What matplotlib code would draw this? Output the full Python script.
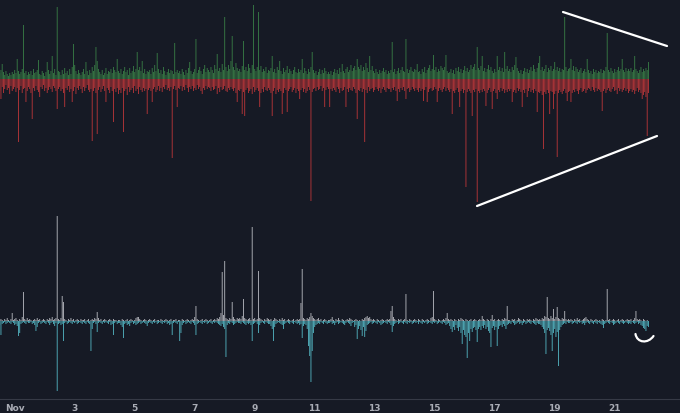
import numpy as np
import pandas as pd
import matplotlib
matplotlib.use('Agg')
import matplotlib.pyplot as plt
import matplotlib.dates as mdates
from matplotlib.lines import Line2D
from matplotlib.path import Path
from matplotlib.patches import PathPatch
from matplotlib.ticker import FuncFormatter

# hourly bars, first bar at Oct 31 12:00, one row = 24 hours
start = '2021-10-31 12:00'

buy_vol = [  # top panel, green (up)
    [6,9,15,7,4,8,5,3,6,4,7,5,9,6,20,8,5,7,10,54,6,8,4,7],
    [5,8,4,10,6,7,9,19,5,4,8,6,3,7,17,9,5,8,23,6,10,4,72,8],
    [7,4,9,5,11,6,8,4,10,5,12,35,14,8,5,9,6,4,7,10,5,17,8,4],
    [9,6,12,8,14,32,18,10,7,5,9,4,6,11,5,8,7,10,6,12,9,7,20,8],
    [6,10,5,8,12,7,9,4,11,6,8,13,7,10,27,9,12,8,18,6,10,5,8,7],
    [9,5,11,7,14,8,26,10,6,9,5,12,8,4,7,10,6,9,8,5,36,7,9,6],
    [8,5,10,7,4,9,6,11,17,8,5,7,10,40,6,9,12,8,5,10,14,7,11,9],
    [7,12,9,6,14,10,25,8,11,7,15,9,62,12,8,14,10,18,43,12,9,16,11,8],
    [10,7,13,38,9,12,8,15,11,6,14,74,10,8,12,67,9,13,7,10,8,12,6,9],
    [8,11,23,7,10,6,12,9,18,8,5,11,7,9,13,6,10,8,5,9,12,7,6,10],
    [7,9,20,6,11,8,5,10,7,12,27,9,6,8,4,7,10,5,9,6,11,8,5,7],
    [5,8,4,7,10,6,9,5,11,7,15,8,6,10,12,7,9,14,8,11,13,9,20,12],
    [10,14,8,12,9,16,11,7,23,9,13,8,6,10,7,5,9,6,8,11,7,9,5,8],
    [6,9,37,7,10,5,8,11,6,9,12,8,7,40,10,6,9,12,8,7,10,9,15,7],
    [8,5,10,7,12,6,9,11,14,8,10,24,9,12,7,10,8,13,11,9,12,24,8,6],
    [7,10,6,9,5,11,8,12,7,10,6,9,13,8,11,7,9,14,10,12,15,9,32,11],
    [9,13,23,8,11,7,10,14,9,12,8,6,10,7,23,9,12,8,11,7,27,10,13,8],
    [10,7,12,9,14,22,11,8,6,9,5,8,11,7,10,6,9,12,8,14,10,7,11,16],
    [23,9,12,8,10,14,7,11,9,13,8,10,17,9,12,8,11,7,10,9,62,12,8,10],
    [11,20,9,13,8,12,10,7,9,11,6,8,10,7,20,9,6,8,5,10,7,9,6,8],
    [7,10,6,9,8,12,46,9,7,11,8,6,10,7,9,12,8,10,20,9,7,11,8,10],
    [8,11,7,9,23,10,8,6,9,12,7,10,8,11,9,17],
]

sell_vol = [  # top panel, red (down)
    [12,20,8,14,10,6,11,9,15,7,12,10,8,13,9,63,11,7,14,10,9,23,12,8],
    [10,14,40,9,12,7,11,13,18,8,10,6,12,9,14,11,8,10,13,7,9,12,30,10],
    [8,12,10,14,28,9,11,7,13,10,23,12,8,15,9,11,7,10,14,8,12,9,6,11],
    [13,10,62,12,9,14,55,11,8,13,10,7,12,23,9,11,14,8,12,43,10,13,9,15],
    [11,14,9,53,12,10,16,8,13,11,9,14,7,12,10,15,8,11,13,9,12,10,35,11],
    [9,12,23,10,8,13,11,7,12,9,13,8,10,6,11,9,12,8,79,10,7,11,28,9],
    [10,7,12,8,11,6,9,13,8,10,7,12,9,11,6,10,8,12,15,9,11,7,10,8],
    [9,12,8,11,10,7,15,9,13,8,11,10,7,12,13,9,11,8,10,12,9,14,23,11],
    [12,10,35,13,37,11,9,14,12,10,15,8,13,11,9,12,28,14,10,13,8,11,12,9],
    [11,14,37,12,9,15,11,13,10,12,35,14,9,11,33,12,10,8,13,11,9,14,10,12],
    [20,11,9,13,10,14,12,8,11,122,13,10,9,12,8,11,10,7,12,9,28,11,8,10],
    [28,10,12,9,11,13,8,10,14,9,12,11,8,28,10,13,9,11,12,8,10,14,40,11],
    [12,9,13,10,63,11,14,8,12,10,9,13,11,8,10,12,9,14,10,8,11,13,9,10],
    [10,13,9,11,8,12,22,10,13,9,11,8,12,20,10,9,13,11,8,10,12,9,11,13],
    [9,12,10,22,11,8,23,13,10,9,12,11,8,10,23,12,9,11,13,10,8,12,9,11],
    [13,10,35,12,14,11,9,13,28,12,10,14,11,108,13,10,12,14,37,11,13,10,123,12],
    [14,11,13,10,12,27,14,11,9,13,30,12,10,14,20,11,13,9,12,10,14,11,13,10],
    [12,10,23,13,11,14,9,12,10,13,28,11,14,10,18,12,9,13,11,14,10,12,33,13],
    [14,12,16,70,13,15,11,14,35,12,13,30,15,12,78,14,11,13,15,12,10,14,22,13],
    [12,23,14,11,13,10,12,15,11,9,13,12,10,14,11,9,10,12,8,11,13,9,12,10],
    [11,13,32,12,10,14,11,9,12,13,10,8,12,11,15,9,12,10,13,11,9,12,10,14],
    [12,10,13,11,15,12,9,13,11,14,20,16,13,18,57,14],
]

inflow = [  # bottom panel, grey (up)
    [1,2,1,0,2,1,3,1,0,2,8,1,2,3,1,0,2,1,4,29,2,1,3,1],
    [2,1,0,1,2,1,3,1,2,0,1,2,1,0,2,1,3,2,4,1,2,3,105,2],
    [1,3,25,19,2,1,0,2,1,3,1,2,0,1,2,1,0,2,1,1,2,0,1,2],
    [0,1,2,1,3,2,9,3,1,2,0,1,2,1,0,1,2,1,0,2,1,1,0,1],
    [1,0,2,1,0,1,2,0,1,2,1,0,1,3,4,4,2,1,0,1,2,1,0,1],
    [2,1,0,1,2,0,1,1,0,2,1,0,1,2,1,0,1,2,0,1,1,2,0,1],
    [1,0,2,1,0,1,2,1,0,1,2,1,4,15,2,1,0,1,2,0,1,2,1,0],
    [1,2,0,1,2,1,3,2,4,8,49,6,60,3,2,1,3,2,19,4,2,1,3,2],
    [3,2,5,22,3,2,1,2,3,1,94,2,3,1,2,50,3,2,1,0,2,1,3,2],
    [1,2,0,1,3,2,1,0,2,1,3,1,2,0,1,2,1,0,1,2,0,1,2,1],
    [2,18,52,3,2,1,3,2,4,8,5,3,2,1,2,3,1,2,0,1,2,1,0,1],
    [1,2,4,1,0,2,1,3,1,0,2,1,0,1,2,1,3,2,1,0,1,2,1,0],
    [1,0,2,1,3,4,5,3,4,2,1,2,1,0,2,1,0,1,2,1,0,1,2,1],
    [2,10,15,4,2,1,0,2,1,2,0,1,2,27,1,0,2,1,0,1,2,1,0,2],
    [1,0,2,1,0,1,2,1,0,3,4,30,2,1,0,2,1,0,1,2,1,3,8,2],
    [1,2,1,0,2,1,0,2,1,3,2,1,0,2,1,0,1,2,0,1,2,1,0,1],
    [2,1,5,2,1,0,2,1,0,2,6,1,2,0,1,2,1,0,2,1,3,2,15,1],
    [1,0,2,1,2,0,1,3,2,1,0,2,1,0,2,1,2,1,0,2,1,3,2,1],
    [2,1,3,2,5,4,24,3,2,5,3,12,2,4,14,3,2,1,3,2,10,2,1,2],
    [1,2,1,0,2,1,3,1,2,0,1,2,3,4,2,1,0,2,1,0,1,2,1,0],
    [1,0,2,1,0,1,32,1,2,0,1,2,1,0,1,2,0,1,2,1,0,1,2,1],
    [1,2,0,1,3,10,2,1,2,1,0,2,1,0,1,0],
]

outflow = [  # bottom panel, teal (down)
    [4,14,3,2,1,3,2,1,2,3,1,2,4,3,5,15,12,3,2,1,2,3,1,2],
    [2,1,3,2,4,10,6,2,1,3,2,1,2,3,1,2,4,2,1,3,5,2,70,3],
    [2,4,3,20,2,1,3,2,1,2,3,1,2,1,3,2,1,2,3,1,2,3,1,2],
    [3,30,8,2,1,3,11,2,1,2,3,1,2,1,2,3,1,4,3,14,2,1,3,2],
    [2,4,6,17,3,2,4,3,5,2,1,3,2,4,3,2,1,3,2,1,2,3,5,2],
    [1,2,3,1,2,1,3,2,1,2,3,1,2,1,3,2,4,3,14,2,1,2,3,1],
    [20,12,4,2,1,3,2,1,2,3,1,2,4,14,3,2,1,2,3,1,2,1,3,2],
    [1,2,3,1,2,1,2,3,4,5,3,6,8,36,4,2,3,1,2,4,3,2,1,2],
    [2,3,1,2,3,4,2,3,2,4,20,3,2,1,3,12,4,2,1,2,3,1,2,3],
    [3,5,8,20,6,3,2,1,2,3,4,8,3,2,1,2,3,1,2,3,1,2,3,2],
    [4,3,17,5,3,4,8,25,35,61,30,12,6,4,3,2,3,1,2,3,1,2,3,2],
    [2,1,3,2,4,2,1,3,2,1,2,3,4,2,1,2,3,5,2,1,6,4,18,8],
    [5,9,15,6,16,10,4,3,2,1,3,2,1,2,3,1,2,4,3,2,1,2,3,1],
    [2,4,11,5,3,2,1,3,2,1,2,3,1,2,3,1,2,1,3,2,1,2,1,3],
    [1,2,3,1,2,1,3,2,1,2,3,1,2,1,3,2,1,2,3,1,2,4,3,2],
    [5,8,11,6,9,4,7,10,6,12,23,9,14,16,37,12,20,8,11,7,6,9,21,8],
    [6,9,5,7,4,8,6,10,12,26,7,5,9,6,25,8,5,4,6,3,5,8,4,3],
    [2,3,1,2,4,3,2,1,3,2,4,2,1,3,2,1,2,3,1,2,3,4,2,3],
    [3,4,6,8,12,33,9,7,10,14,30,12,8,16,11,45,9,6,4,3,2,3,1,2],
    [2,1,3,2,1,2,3,1,2,1,3,2,4,2,1,2,3,1,2,3,1,2,3,1],
    [2,3,4,7,3,2,1,2,3,1,2,4,3,2,1,2,3,1,2,3,2,1,2,3],
    [2,3,1,2,3,2,1,3,2,4,5,7,8,10,5,6],
]

tick_days = [1, 3, 5, 7, 9, 11, 13, 15, 17, 19, 21]

BG = '#161a25'
GREEN = '#387c45'
RED = '#b83639'
GREY = '#b4b6bd'
TEAL = '#52b3c0'
TEXT = '#a9acb5'


def flat(rows):
    return np.array([v for r in rows for v in r], dtype=float)


buy = flat(buy_vol)
sell = flat(sell_vol)
inf = flat(inflow)
outf = flat(outflow)
times = pd.date_range(start, periods=len(buy), freq='h')
x = mdates.date2num(times)

W, H = 680, 414
fig = plt.figure(figsize=(W / 100, H / 100), dpi=100, facecolor=BG)

ax1 = fig.add_axes([0, 1 - 210 / H, 1, 210 / H], facecolor=BG)
ax2 = fig.add_axes([0, 1 - 400 / H, 1, 190 / H], facecolor=BG, sharex=ax1)

bw = 0.7 / 24
kw = dict(width=bw, linewidth=0, snap=False)
ax1.bar(x, buy, color=GREEN, **kw)
ax1.bar(x, -sell, color=RED, **kw)
ax1.set_ylim(-130, 80)

ax2.bar(x, inf, color=GREY, **kw)
ax2.bar(x, -outf, color=TEAL, **kw)
ax2.set_ylim(-78, 112)

nov1 = mdates.date2num(pd.Timestamp('2021-11-01'))
left = nov1 - 14.7 / 30
ax1.set_xlim(left, left + W / 30)

for ax in (ax1, ax2):
    for s in ax.spines.values():
        s.set_visible(False)
    ax.set_yticks([])
    ax.tick_params(axis='x', length=0)

ax1.tick_params(axis='x', labelbottom=False)
ax2.spines['bottom'].set_visible(True)
ax2.spines['bottom'].set_color('#363a46')
ax2.spines['bottom'].set_linewidth(0.8)

ticks = [nov1 + d - 1 for d in tick_days]
ax2.set_xticks(ticks)
ax2.xaxis.set_major_formatter(FuncFormatter(
    lambda v, _: 'Nov' if abs(v - nov1) < 0.01 else str(int(round(v - nov1)) + 1)))
ax2.tick_params(axis='x', colors=TEXT, labelsize=6.5, pad=3)
for t in ax2.get_xticklabels():
    t.set_fontweight('bold')


# hand drawn annotation marks (figure pixels)
def px(xp, yp):
    return xp / W, 1 - yp / H


for (x0, y0), (x1, y1) in [((563, 13), (667, 47)), ((477, 207), (657, 137))]:
    a, b = px(x0, y0)
    c, d = px(x1, y1)
    fig.add_artist(Line2D([a, c], [b, d], transform=fig.transFigure,
                          color='white', lw=1.6, solid_capstyle='round'))

verts = [px(635.5, 335), px(637, 344), px(648, 345), px(653.5, 337)]
arc = Path(verts, [Path.MOVETO, Path.CURVE4, Path.CURVE4, Path.CURVE4])
fig.add_artist(PathPatch(arc, transform=fig.transFigure, facecolor='none',
                         edgecolor='white', lw=1.6, capstyle='round'))

fig.savefig('out.png', dpi=100, facecolor=BG)
